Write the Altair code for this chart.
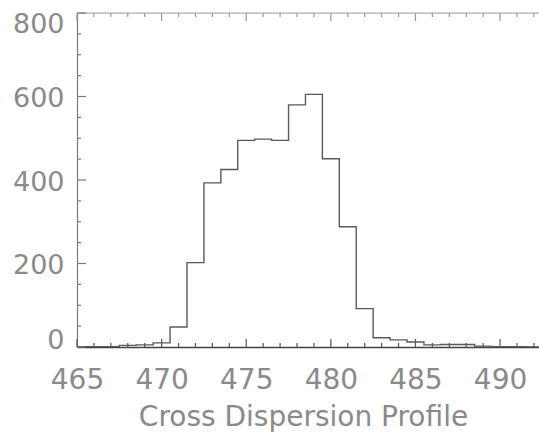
import altair as alt
import pandas as pd

# bin centres (pixel columns) and counts
centers = list(range(465, 494))
counts = [0, 1, 1, 4, 5, 10, 48, 202, 393, 425, 495, 498, 495, 580, 605,
          451, 288, 92, 22, 17, 12, 5, 6, 6, 2, 1, 1, 0, 0]

x_major = [465, 470, 475, 480, 485, 490]
x_minor = [v for v in range(465, 493) if v not in x_major]
y_major = [0, 200, 400, 600, 800]
y_minor = [v for v in range(0, 801, 50) if v not in y_major]

X_DOMAIN = [465, 492.3]
Y_DOMAIN = [0, 800]
W, H = 462, 334

df = pd.DataFrame({"x": centers, "y": counts})
xs = alt.Scale(domain=X_DOMAIN, nice=False, zero=False)
ys = alt.Scale(domain=Y_DOMAIN, nice=False)

AX = "#7a7a7a"
TXT = "#8a8a8a"
FONT = "DejaVu Sans"

y_label_offset = {
    "condition": [
        {"test": "datum.value == 800", "value": 11},
        {"test": "datum.value == 0", "value": -7},
    ],
    "value": 2,
}

line = alt.Chart(df).mark_line(interpolate="step", color="#5a5a5a",
                               strokeWidth=1.4, clip=True).encode(
    x=alt.X("x:Q", scale=xs, title="Cross Dispersion Profile",
            axis=alt.Axis(values=x_major, ticks=False, grid=False,
                          domainColor="#444", domainWidth=1.3,
                          labelFont=FONT, labelFontSize=28, labelColor=TXT,
                          labelFlush=False, labelOverlap=False,
                          labelPadding=19, titleFont=FONT, titleFontSize=28,
                          titleFontWeight="normal", titleColor=TXT,
                          titlePadding=9, titleX=226, format="d")),
    y=alt.Y("y:Q", scale=ys, title=None,
            axis=alt.Axis(values=y_major, ticks=False, grid=False,
                          domainColor=AX, domainWidth=1.2,
                          labelFont=FONT, labelFontSize=27, labelColor=TXT,
                          labelFlush=False, labelOverlap=False,
                          labelOffset=y_label_offset,
                          labelPadding=13, format="d")),
)

def xticks(vals, y0, y1, color):
    return alt.Chart(pd.DataFrame({"t": vals})).mark_rule(
        color=color, strokeWidth=1.2).encode(
        x=alt.X("t:Q", scale=xs), y=alt.value(y0), y2=alt.value(y1))

def yticks(vals, length):
    return alt.Chart(pd.DataFrame({"t": vals})).mark_rule(
        color=AX, strokeWidth=1.2).encode(
        y=alt.Y("t:Q", scale=ys), x=alt.value(0), x2=alt.value(length))

top_border = alt.Chart(pd.DataFrame({"t": [0]})).mark_rule(
    color="#aaaaaa", strokeWidth=1.2).encode(
    x=alt.value(0), x2=alt.value(W), y=alt.value(0))

chart = alt.layer(
    top_border,
    xticks(x_major, 0, 8, "#999999"),
    xticks(x_minor, 0, 4, "#999999"),
    xticks(x_major, H, H - 8, "#555555"),
    xticks(x_minor, H, H - 4, "#555555"),
    yticks(y_major, 9),
    yticks(y_minor, 4),
    line,
).properties(
    width=W, height=H,
    autosize=alt.AutoSizeParams(type="none"),
    padding={"left": 77, "top": 13, "right": 0, "bottom": 85},
).configure_view(stroke=None).configure(background="white")

chart.save("out.html", embed_options={"renderer": "svg", "actions": False})
